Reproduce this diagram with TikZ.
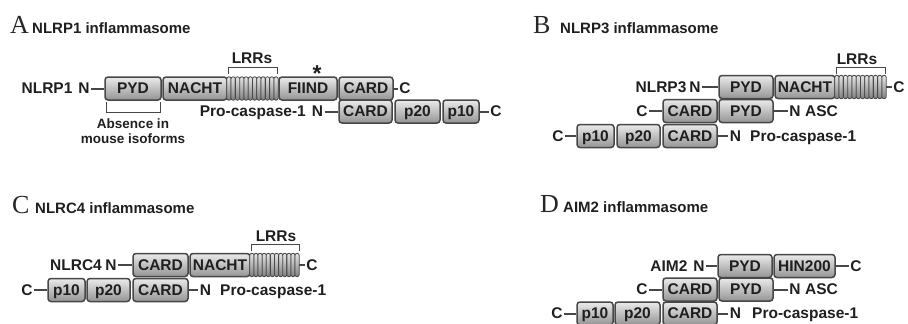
\documentclass[tikz,border=0pt]{standalone}
\usepackage{fontspec}
\setmainfont{Liberation Sans}
\newfontfamily\panelfont{Liberation Serif}
\usetikzlibrary{calc}
\begin{document}
\begin{tikzpicture}[x=1pt,y=-1pt,
  dom/.style={draw=black!72, line width=1.5pt, rounded corners=3pt,
    top color=black!8, bottom color=black!42, minimum height=23pt,
    inner sep=0pt, text height=10.7pt, text depth=0pt,
    font=\fontsize{15.5}{18}\selectfont\bfseries, text=black!88},
  lrrbox/.style={minimum height=23pt, inner sep=0pt},
  ridge/.style={draw=black!72, line width=0.8pt, rounded corners=2pt,
    top color=black!10, bottom color=black!50},
  lab/.style={inner sep=1.5pt, text height=10.7pt, text depth=0pt,
    font=\fontsize{15.5}{18}\selectfont\bfseries, text=black!88},
  note/.style={inner sep=0pt, font=\fontsize{13.5}{16}\selectfont\bfseries, text=black!88},
  ttl/.style={inner sep=0pt, anchor=base west, font=\fontsize{15}{17}\selectfont\bfseries, text=black!88},
  plet/.style={inner sep=0pt, anchor=base west, font=\panelfont\fontsize{26}{28}\selectfont, text=black!85},
  con/.style={draw=black!72, line width=2pt},
  brk/.style={draw=black!72, line width=1pt},
]
\useasboundingbox (0,0) rectangle (908,324);

% ================= A =================
\node[plet] (la) at (10,33) {A};
\node[ttl] (ta) at (32,33) {NLRP1 inflammasome};
% row 1
\node[dom, minimum width=56pt] (apyd) at (133,88.5) {PYD};
\node[dom, minimum width=64pt] (anacht) at (195,88.5) {NACHT};
\node[lrrbox, minimum width=51pt] (alrr) at (252.5,88.5) {};
\foreach \i in {0,...,11}
  \draw[ridge] ($(alrr.north west)!{\i/12}!(alrr.north east)$) rectangle ($(alrr.south west)!{(\i+1)/12}!(alrr.south east)$);
\node[dom, minimum width=58pt] (afiind) at (308,88.5) {FIIND};
\node[dom, minimum width=54pt] (acard) at (366,88.5) {CARD};
\node[lab] (ac1) at (405,88.5) {C};
\draw[con] (acard) -- (ac1);
\node[lab] (an1) at (84,88.5) {N};
\node[lab] (aname) at (47,88.5) {NLRP1};
\draw[con] (an1) -- (apyd);
\node[inner sep=0pt, anchor=base, text height=17pt, text depth=-9pt,
  font=\fontsize{23}{24}\selectfont\bfseries, text=black!88] (aast) at (317,81) {*};
\node[lab, anchor=base] (alrrt) at (252,63) {LRRs};
\draw[brk] (228,74) -- (228,67) -- (277,67) -- (277,74);
\draw[brk] (106,102) -- (106,112) -- (160,112) -- (160,102);
\node[note, anchor=base] (aab1) at (133,128) {Absence in};
\node[note, anchor=base] (aab2) at (133,143) {mouse isoforms};
% row 2
\node[dom, minimum width=53pt] (acard2) at (365.5,111.5) {CARD};
\node[dom, minimum width=45pt] (ap20) at (417.5,111.5) {p20};
\node[dom, minimum width=36pt] (ap10) at (461,111.5) {p10};
\node[lab] (ac2) at (496,111.5) {C};
\draw[con] (ap10) -- (ac2);
\node[lab] (an2) at (317.5,111.5) {N};
\draw[con] (an2) -- (acard2);
\node[lab, anchor=east, inner sep=0pt] (apc) at (306,111.5) {Pro-caspase-1};

% ================= B =================
\node[plet] (lb) at (533,33) {B};
\node[ttl] (tb) at (560,33) {NLRP3 inflammasome};
% row 1
\node[dom, minimum width=54pt] (bpyd) at (746,87) {PYD};
\node[dom, minimum width=60pt] (bnacht) at (805,87) {NACHT};
\node[lrrbox, minimum width=51pt] (blrr) at (860.5,87) {};
\foreach \i in {0,...,11}
  \draw[ridge] ($(blrr.north west)!{\i/12}!(blrr.north east)$) rectangle ($(blrr.south west)!{(\i+1)/12}!(blrr.south east)$);
\node[lab] (bc1) at (899,87) {C};
\draw[con] (blrr) -- (bc1);
\node[lab] (bn1) at (695,87) {N};
\node[lab] (bname) at (661,87) {NLRP3};
\draw[con] (bn1) -- (bpyd);
\node[lab, anchor=base] (blrrt) at (857,64) {LRRs};
\draw[brk] (836,74) -- (836,67) -- (885,67) -- (885,74);
% row 2 (ASC)
\node[dom, minimum width=54pt] (bcard2) at (690,111) {CARD};
\node[dom, minimum width=54pt] (bpyd2) at (746,111) {PYD};
\node[lab] (bn2) at (795,111) {N};
\draw[con] (bpyd2) -- (bn2);
\node[lab, anchor=west, inner sep=0pt] (basc) at (805,111) {ASC};
\node[lab] (bc2) at (642,111) {C};
\draw[con] (bc2) -- (bcard2);
% row 3 (pro-caspase-1)
\node[dom, minimum width=37pt] (bp10) at (595.5,136) {p10};
\node[dom, minimum width=43pt] (bp20) at (638.5,136) {p20};
\node[dom, minimum width=54pt] (bcard3) at (690,136) {CARD};
\node[lab] (bn3) at (735.5,136) {N};
\draw[con] (bcard3) -- (bn3);
\node[lab, anchor=west, inner sep=0pt] (bpc) at (750,136) {Pro-caspase-1};
\node[lab] (bc3) at (558,136) {C};
\draw[con] (bc3) -- (bp10);

% ================= C =================
\node[plet] (lc) at (12,213) {C};
\node[ttl] (tc) at (35,213) {NLRC4 inflammasome};
% row 1
\node[dom, minimum width=55pt] (ccard) at (160.5,265) {CARD};
\node[dom, minimum width=60pt] (cnacht) at (220,265) {NACHT};
\node[lrrbox, minimum width=49pt] (clrr) at (274.5,265) {};
\foreach \i in {0,...,11}
  \draw[ridge] ($(clrr.north west)!{\i/12}!(clrr.north east)$) rectangle ($(clrr.south west)!{(\i+1)/12}!(clrr.south east)$);
\node[lab] (cc1) at (312,265) {C};
\draw[con] (clrr) -- (cc1);
\node[lab] (cn1) at (111,265) {N};
\node[lab] (cname) at (76,265) {NLRC4};
\draw[con] (cn1) -- (ccard);
\node[lab, anchor=base] (clrrt) at (276,241) {LRRs};
\draw[brk] (251,251) -- (251,244) -- (299,244) -- (299,251);
% row 2
\node[dom, minimum width=37pt] (cp10) at (66.5,290) {p10};
\node[dom, minimum width=43pt] (cp20) at (108.5,290) {p20};
\node[dom, minimum width=55pt] (ccard2) at (160.5,290) {CARD};
\node[lab] (cn2) at (205.5,290) {N};
\draw[con] (ccard2) -- (cn2);
\node[lab, anchor=west, inner sep=0pt] (cpc) at (220,290) {Pro-caspase-1};
\node[lab] (cc2) at (27,290) {C};
\draw[con] (cc2) -- (cp10);

% ================= D =================
\node[plet] (ld) at (540,212) {D};
\node[ttl] (td) at (563,212) {AIM2 inflammasome};
% row 1
\node[dom, minimum width=54pt] (dpyd) at (745,266) {PYD};
\node[dom, minimum width=61pt] (dhin) at (804.5,266) {HIN200};
\node[lab] (dc1) at (856,266) {C};
\draw[con] (dhin) -- (dc1);
\node[lab] (dn1) at (699,266) {N};
\node[lab] (dname) at (669,266) {AIM2};
\draw[con] (dn1) -- (dpyd);
% row 2 (ASC)
\node[dom, minimum width=54pt] (dcard2) at (690,289.5) {CARD};
\node[dom, minimum width=54pt] (dpyd2) at (746,289.5) {PYD};
\node[lab] (dn2) at (795,289.5) {N};
\draw[con] (dpyd2) -- (dn2);
\node[lab, anchor=west, inner sep=0pt] (dasc) at (805,289.5) {ASC};
\node[lab] (dc2) at (642,289.5) {C};
\draw[con] (dc2) -- (dcard2);
% row 3 (pro-caspase-1)
\node[dom, minimum width=36pt] (dp10) at (595,313.5) {p10};
\node[dom, minimum width=45pt] (dp20) at (637.5,313.5) {p20};
\node[dom, minimum width=54pt] (dcard3) at (690,313.5) {CARD};
\node[lab] (dn3) at (735.5,313.5) {N};
\draw[con] (dcard3) -- (dn3);
\node[lab, anchor=west, inner sep=0pt] (dpc) at (752,313.5) {Pro-caspase-1};
\node[lab] (dc3) at (557,313.5) {C};
\draw[con] (dc3) -- (dp10);
\end{tikzpicture}
\end{document}
